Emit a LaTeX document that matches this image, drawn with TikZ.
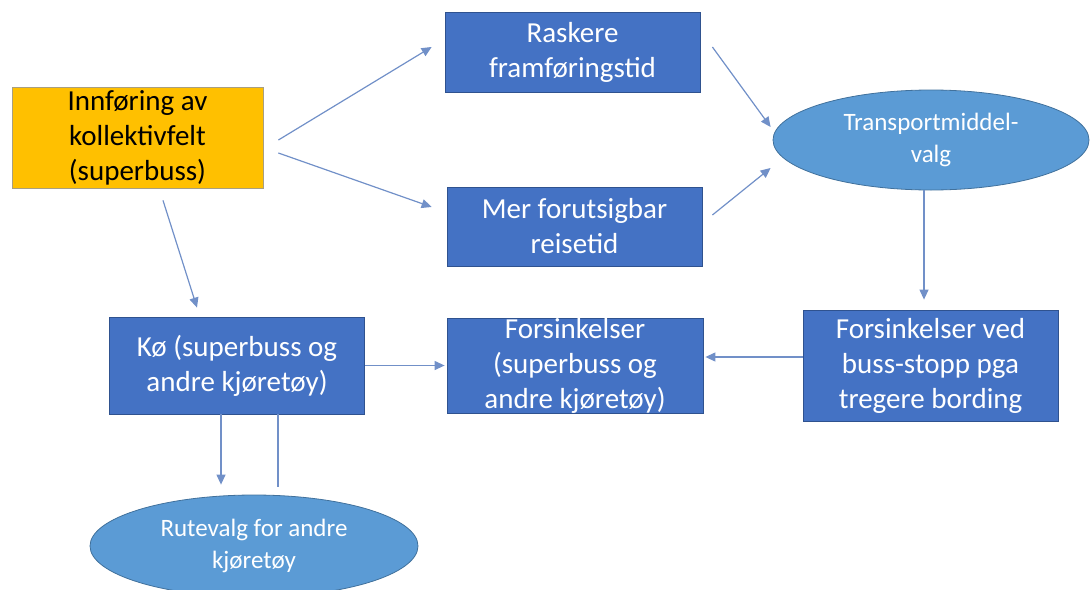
\documentclass[tikz,border=0pt]{standalone}
\usepackage{fontspec}
\setmainfont{Carlito}
\usetikzlibrary{shapes.geometric,arrows.meta,calc}

\definecolor{boxblue}{HTML}{4472C4}
\definecolor{boxline}{HTML}{2F528F}
\definecolor{ovalblue}{HTML}{5B9BD5}
\definecolor{ovalline}{HTML}{41719C}
\definecolor{startfill}{HTML}{FFC000}
\definecolor{startline}{HTML}{A89F80}
\definecolor{arrowcolor}{HTML}{7190C8}

\begin{document}
\begin{tikzpicture}[x=0.5pt,y=-0.5pt,
    box/.style={draw=boxline,fill=boxblue,text=white,inner sep=0pt,align=center,
        minimum width=127.5pt,font=\fontsize{14.5}{17.5}\selectfont},
    oval/.style={ellipse,draw=ovalline,fill=ovalblue,text=white,inner sep=0pt,align=center,
        font=\fontsize{12.5}{16}\selectfont},
    link/.style={draw=arrowcolor,line width=0.6pt,-{Triangle[length=5pt,width=4.5pt]}}]

    % Page size
    \useasboundingbox (0,0) rectangle (1090,589);

    % Starting point
    \node[box,fill=startfill,draw=startline,text=black,minimum width=125.5pt,minimum height=50.5pt]
        (innforing) at (137.5,137.5) {Innføring av\\kollektivfelt\\(superbuss)};

    % Effects on the bus
    \node[box,minimum height=40pt] (raskere) at (572.5,52) {Raskere\\framføringstid};
    \node[box,minimum height=39.5pt] (forutsigbar) at (574.5,226.5) {Mer forutsigbar\\reisetid};

    % Choice of mode
    \node[oval,minimum width=158pt,minimum height=50pt] (transport) at (931,140) {Transportmiddel-\\valg};

    % Bottom row
    \node[box,minimum height=48.5pt] (ko) at (237,365.5) {Kø (superbuss og\\andre kjøretøy)};
    \node[box,minimum width=128pt,minimum height=47.5pt] (forsinkelser) at (575,365.5)
        {Forsinkelser\\(superbuss og\\andre kjøretøy)};
    \node[box,minimum height=55.5pt] (bording) at (930.5,365.5)
        {Forsinkelser ved\\buss-stopp pga\\tregere bording};

    % Route choice
    \node[oval,minimum width=164pt,minimum height=51pt] (rutevalg) at (254,546)
        {Rutevalg for andre\\kjøretøy};

    % Arrows
    \draw[link] ($(innforing.east)+(15,2.5)$) -- ($(raskere.west)+(-13,-5)$);
    \draw[link] ($(innforing.east)+(15,15.5)$) -- ($(forutsigbar.west)+(-15,-19.5)$);
    \draw[link] ($(innforing.south)+(25.5,12)$) -- ($(ko.north)+(-40,-9)$);
    \draw[link] ($(raskere.east)+(12,-5)$) -- ($(transport.west)+(-2,-13)$);
    \draw[link] ($(forutsigbar.east)+(10,-11.5)$) -- ($(transport.west)+(-2,28)$);
    \draw[link] ($(transport.south)+(-7,0)$) -- ($(bording.north)+(-6.5,-10)$);
    \draw[link] ($(bording.west)+(0,-8.5)$) -- ($(forsinkelser.east)+(2,-8.5)$);
    \draw[link] (ko.east) -- ($(forsinkelser.west)+(-2,0)$);
    \draw[link] ($(ko.south)+(-16,0)$) -- ($(rutevalg.north)+(-33,-10)$);
    \draw[draw=arrowcolor,line width=0.6pt] ($(ko.south)+(41,0)$) -- ($(rutevalg.north)+(24,-8)$);

\end{tikzpicture}
\end{document}
